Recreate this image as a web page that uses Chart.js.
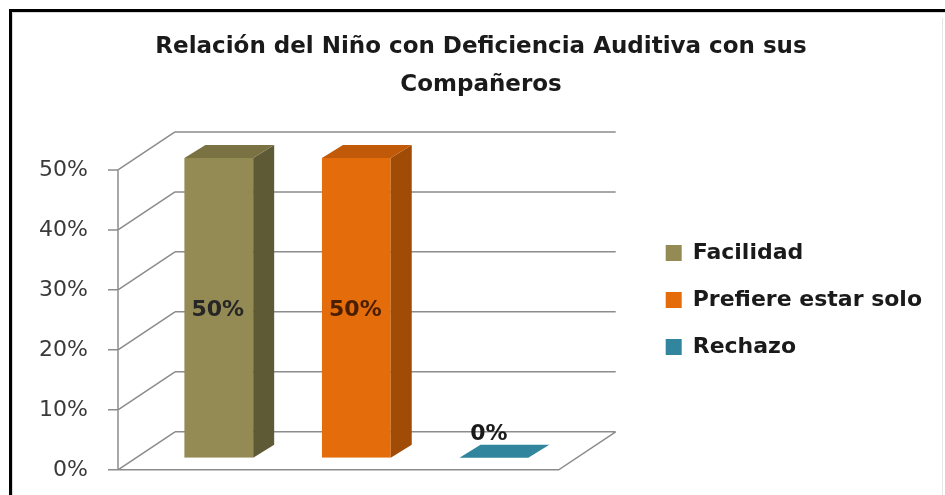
<!DOCTYPE html>
<html>
<head>
<meta charset="utf-8">
<script src="https://cdn.jsdelivr.net/npm/chart.js@4.4.1/dist/chart.umd.min.js"></script>
<style>
  body { margin: 0; background: #fff; }
  #wrap { width: 945px; height: 495px; position: relative; }
</style>
</head>
<body>
<div id="wrap"><canvas id="chart"></canvas></div>
<script>
// data
const categories = ['Facilidad', 'Prefiere estar solo', 'Rechazo'];
const percentages = [50, 50, 0];
const yTicks = [0, 10, 20, 30, 40, 50];
const titleLines = ['Relación del Niño con Deficiencia Auditiva con sus', 'Compañeros'];

// colours for the box faces
const frontColors = ['#948a54', '#e46c0a', '#31859c'];
const topColors = ['#7a7242', '#c05a08', '#2b7488'];
const sideColors = ['#5f5a36', '#a04c07', '#216070'];
const labelColors = ['#262626', '#4a1e00', '#1a1a1a'];

// fake 3d: walls sit around the plane the bars are drawn in
const DEPTH_X = 57, DEPTH_Y = 38;      // floor depth
const FRONT_Y = 12;                     // front edge below bar plane
const BAR_DX = 21, BAR_DY = 13;         // depth of each box
const GRID = '#8c8c8c';

const box3d = {
  id: 'box3d',
  beforeDraw(chart) {
    const ctx = chart.ctx;
    ctx.save();
    ctx.fillStyle = '#fff';
    ctx.fillRect(0, 0, chart.width, chart.height);
    // picture frame
    ctx.fillStyle = '#000';
    ctx.fillRect(9, 9, chart.width - 9, 3);
    ctx.fillRect(9, 9, 3, chart.height - 9);
    ctx.fillStyle = '#d9d9d9';
    ctx.fillRect(12, 12, chart.width - 12, 1);
    ctx.fillRect(12, 12, 1, chart.height - 12);
    ctx.fillStyle = '#e6e6e6';
    ctx.fillRect(chart.width - 3, 18, 1, chart.height - 18);
    ctx.restore();
  },
  beforeDatasetsDraw(chart) {
    const ctx = chart.ctx, y = chart.scales.y, a = chart.chartArea;
    const fl = a.left - 32, fr = a.right - 4;
    ctx.save();
    ctx.strokeStyle = GRID;
    ctx.lineWidth = 1.5;
    ctx.beginPath();
    y.ticks.forEach(t => {
      const py = y.getPixelForValue(t.value) + FRONT_Y;
      // back wall
      ctx.moveTo(fl + DEPTH_X, py - DEPTH_Y);
      ctx.lineTo(fr + DEPTH_X, py - DEPTH_Y);
      // side wall
      ctx.moveTo(fl, py);
      ctx.lineTo(fl + DEPTH_X, py - DEPTH_Y);
      // tick mark
      ctx.moveTo(fl - 10, py);
      ctx.lineTo(fl, py);
    });
    const y0 = y.getPixelForValue(0) + FRONT_Y;
    const yMax = y.getPixelForValue(y.max) + FRONT_Y;
    ctx.moveTo(fl, yMax);
    ctx.lineTo(fl, y0);
    ctx.lineTo(fr, y0);
    ctx.lineTo(fr + DEPTH_X, y0 - DEPTH_Y);
    ctx.stroke();
    ctx.restore();
  },
  afterDatasetsDraw(chart) {
    const ctx = chart.ctx;
    const meta = chart.getDatasetMeta(0);
    ctx.save();
    meta.data.forEach((bar, i) => {
      const p = bar.getProps(['x', 'y', 'base', 'width'], true);
      const L = p.x - p.width / 2, R = p.x + p.width / 2;
      const solid = p.base - p.y > 0.5;
      // side
      if (solid) {
        ctx.fillStyle = sideColors[i];
        ctx.beginPath();
        ctx.moveTo(R, p.y);
        ctx.lineTo(R + BAR_DX, p.y - BAR_DY);
        ctx.lineTo(R + BAR_DX, p.base - BAR_DY);
        ctx.lineTo(R, p.base);
        ctx.closePath();
        ctx.fill();
      }
      // top
      ctx.fillStyle = solid ? topColors[i] : frontColors[i];
      ctx.beginPath();
      ctx.moveTo(L, p.y);
      ctx.lineTo(L + BAR_DX, p.y - BAR_DY);
      ctx.lineTo(R + BAR_DX, p.y - BAR_DY);
      ctx.lineTo(R, p.y);
      ctx.closePath();
      ctx.fill();

      // value label
      ctx.font = 'bold 22px "DejaVu Sans"';
      ctx.textAlign = 'center';
      ctx.textBaseline = 'middle';
      ctx.fillStyle = labelColors[i];
      const txt = percentages[i] + '%';
      if (p.base - p.y > 30) {
        ctx.fillText(txt, p.x - 1, (p.y + p.base) / 2 + 2);
      } else {
        ctx.fillText(txt, p.x - 5, p.y - 24);
      }
    });
    ctx.restore();
  }
};

new Chart(document.getElementById('chart'), {
  type: 'bar',
  data: {
    labels: categories,
    datasets: [{
      data: percentages,
      backgroundColor: frontColors,
      borderWidth: 0,
      categoryPercentage: 1,
      barPercentage: 0.5
    }]
  },
  options: {
    responsive: true,
    maintainAspectRatio: false,
    animation: false,
    layout: { padding: { left: 30, right: 13, top: 0, bottom: 37 } },
    plugins: {
      tooltip: { enabled: false },
      title: {
        display: true,
        text: titleLines,
        color: '#1a1a1a',
        font: { family: '"DejaVu Sans"', size: 23, weight: 'bold', lineHeight: 1.65 },
        padding: { top: 28, bottom: 54 }
      },
      legend: {
        position: 'right',
        align: 'start',
        fullSize: false,
        maxWidth: 400,
        title: { display: true, text: '', font: { size: 10 }, padding: { top: 47, bottom: 0 } },
        labels: {
          boxWidth: 16,
          boxHeight: 16,
          padding: 25,
          color: '#1a1a1a',
          font: { family: '"DejaVu Sans"', size: 22, weight: 'bold' },
          generateLabels: chart => chart.data.labels.map((l, i) => ({
            text: l,
            fillStyle: frontColors[i],
            strokeStyle: frontColors[i],
            fontColor: '#1a1a1a',
            lineWidth: 0,
            hidden: false,
            index: i
          }))
        }
      }
    },
    scales: {
      x: { display: false },
      y: {
        min: 0,
        max: 50,
        weight: 1,
        afterBuildTicks: s => { s.ticks = yTicks.map(v => ({ value: v })); },
        afterFit: s => { s.width = 82; },
        grid: { display: false, drawTicks: false },
        border: { display: false },
        ticks: {
          padding: 24,
          labelOffset: FRONT_Y,
          color: '#3a3a3a',
          font: { family: '"DejaVu Sans"', size: 22 },
          callback: v => v + '%'
        }
      },
      // empty gutters that make room for the side wall and floor depth
      gapLeft: {
        position: 'left',
        weight: 0,
        afterFit: s => { s.width = 38; },
        grid: { display: false, drawTicks: false },
        border: { display: false },
        ticks: { display: false }
      },
      gapRight: {
        position: 'right',
        afterFit: s => { s.width = 78; },
        grid: { display: false, drawTicks: false },
        border: { display: false },
        ticks: { display: false }
      }
    }
  },
  plugins: [box3d]
});
</script>
</body>
</html>
